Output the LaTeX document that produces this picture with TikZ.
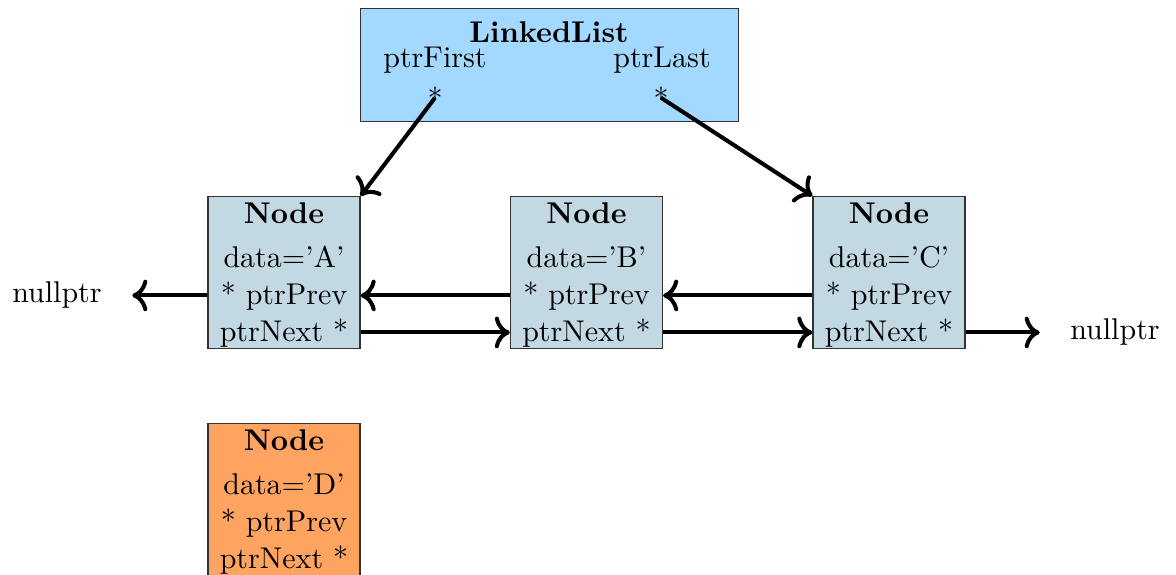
\documentclass[tikz,border=0pt]{standalone}
\usetikzlibrary{calc,arrows.meta}
\definecolor{listblue}{RGB}{163,217,255}
\definecolor{nodeblue}{RGB}{194,217,227}
\definecolor{neworange}{RGB}{255,164,96}

% one list element: name, centre x, top y, data letter, fill colour
\newcommand\listnode[5]{%
  \node[box, fill=#5, anchor=north] (#1) at (#2,#3) {};
  \node[txt, font=\bfseries] (#1-title) at (#2,#3+27) {Node};
  \node[txt] (#1-data) at (#2,#3+71) {data='#4'};
  \node[txt] (#1-prev) at (#2,#3+108) {* ptrPrev};
  \node[txt] (#1-next) at (#2,#3+145) {ptrNext *};
  \coordinate (#1-p) at ([yshift=0.7pt]#1-prev.mid);
  \coordinate (#1-n) at ([yshift=0.7pt]#1-next.mid);
}

\begin{document}
\begin{tikzpicture}[x=0.3333pt,y=-0.3333pt,
  box/.style={draw=black!80, line width=0.4pt, inner sep=0pt,
              minimum width=50.67pt, minimum height=50.67pt},
  txt/.style={inner sep=0pt, anchor=base},
  nulltxt/.style={inner ysep=0pt, inner xsep=10pt, anchor=base},
  ptr/.style={-{To[scale=1.1]}, line width=1.35pt},
]
\useasboundingbox (0,0) rectangle (1176,574);

% the list object
\node[box, fill=listblue, minimum width=126pt, minimum height=37.67pt,
      anchor=north west] (LL) at (360,8) {};
\node[txt, font=\bfseries] (LL-title) at (549,42) {LinkedList};
\node[txt] (LL-first) at (435,67) {ptrFirst};
\node[txt] (LL-last) at (662,67) {ptrLast};
\node[txt] (sF) at (435,109) {*};
\node[txt] (sL) at (661,109) {*};

% the elements
\listnode{A}{284}{196}{A}{nodeblue}
\listnode{B}{586.5}{196}{B}{nodeblue}
\listnode{C}{889}{196}{C}{nodeblue}
\listnode{D}{284}{423}{D}{neworange}

% null ends
\node[nulltxt] (nullL) at (57,302) {nullptr};
\node[nulltxt] (nullR) at (1115,339) {nullptr};

% head and tail pointers
\draw[ptr] (sF.center) -- (A.north east);
\draw[ptr] (sL.center) -- (C.north west);

% prev links
\draw[ptr] (A.west |- A-p) -- (nullL.east |- A-p);
\draw[ptr] (B.west |- B-p) -- (A.east |- B-p);
\draw[ptr] (C.west |- C-p) -- (B.east |- C-p);

% next links
\draw[ptr] (A.east |- A-n) -- (B.west |- A-n);
\draw[ptr] (B.east |- B-n) -- (C.west |- B-n);
\draw[ptr] (C.east |- C-n) -- (nullR.west |- C-n);
\end{tikzpicture}
\end{document}
